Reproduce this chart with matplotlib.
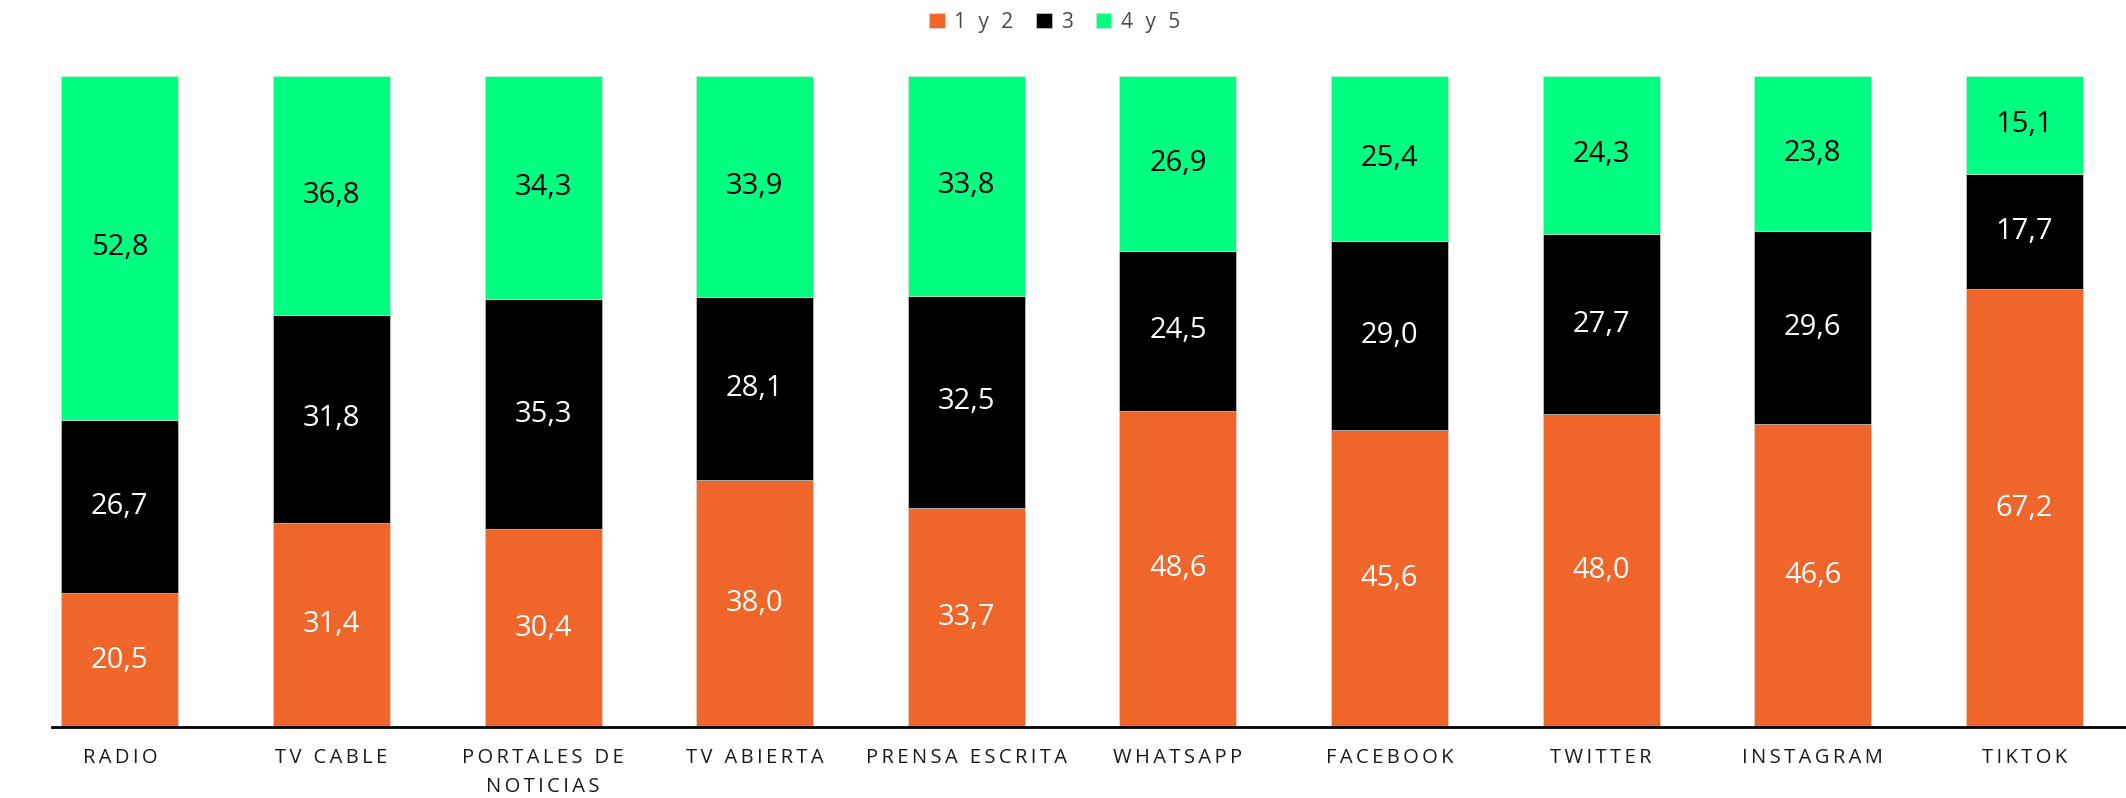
import matplotlib.pyplot as plt
import numpy as np

categorias = ["RADIO", "TV CABLE", "PORTALES DE\nNOTICIAS", "TV ABIERTA", "PRENSA ESCRITA",
              "WHATSAPP", "FACEBOOK", "TWITTER", "INSTAGRAM", "TIKTOK"]
bajo = [20.5, 31.4, 30.4, 38.0, 33.7, 48.6, 45.6, 48.0, 46.6, 67.2]      # 1 y 2
medio = [26.7, 31.8, 35.3, 28.1, 32.5, 24.5, 29.0, 27.7, 29.6, 17.7]     # 3
alto = [52.8, 36.8, 34.3, 33.9, 33.8, 26.9, 25.4, 24.3, 23.8, 15.1]      # 4 y 5
series = ["1 y 2", "3", "4 y 5"]
colores = ["#F0652A", "#000000", "#00FF80"]
color_txt = ["white", "white", "black"]

plt.rcParams['font.family'] = ['Open Sans', 'DejaVu Sans']


def espaciar(s):
    return "\n".join("\u2009".join(linea) for linea in s.split("\n"))


fig = plt.figure(figsize=(21.26, 7.98), dpi=100)
ax = fig.add_axes([0.0245, 0.089, 0.9755, 0.816])

x = np.arange(len(categorias))
base = np.zeros(len(categorias))
for vals, nombre, c, tc in zip([bajo, medio, alto], series, colores, color_txt):
    vals = np.array(vals)
    ax.bar(x, vals, 0.553, bottom=base, color=c, label=espaciar(nombre),
           edgecolor="#dddddd", linewidth=0.4)
    for xi, b, v in zip(x, base, vals):
        ax.text(xi, b + v / 2, f"{v:.1f}".replace(".", ","), ha="center", va="center",
                fontsize=21, color=tc)
    base += vals

ax.set_xlim(-0.32, 9.48)
ax.set_ylim(0, 100)
ax.set_yticks([])
ax.set_xticks(x)
ax.set_xticklabels([espaciar(c) for c in categorias], fontsize=14.5, color="#1a1a1a",
                   linespacing=1.6)
ax.tick_params(axis="x", length=0, pad=15)
for s in ["top", "right", "left"]:
    ax.spines[s].set_visible(False)
ax.spines["bottom"].set_linewidth(2)

fig.legend(loc="center", bbox_to_anchor=(0.496, 0.972), ncol=3, frameon=False,
           fontsize=15, handlelength=0.75, handleheight=0.75, handletextpad=0.45,
           columnspacing=1.1, labelcolor="#4a4a4a")

fig.savefig("out.png", dpi=100)
